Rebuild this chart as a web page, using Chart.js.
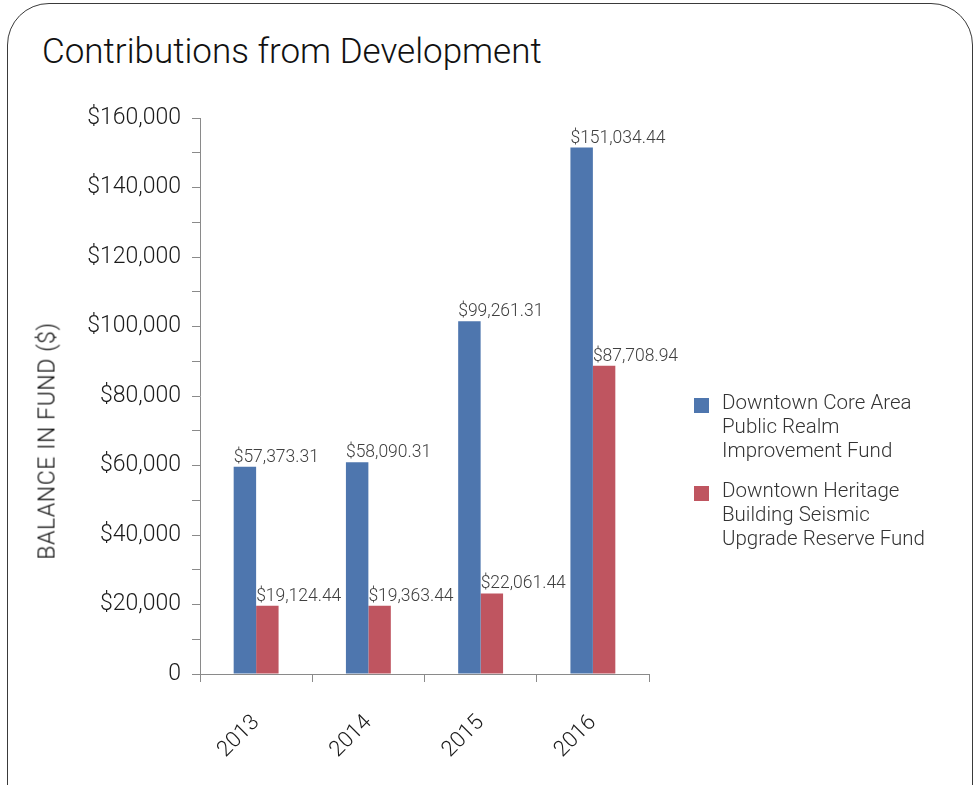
<!DOCTYPE html>
<html>
<head>
<meta charset="utf-8">
<script src="https://cdn.jsdelivr.net/npm/chart.js@4"></script>
<style>
html, body { margin:0; padding:0; background:#fff; width:975px; height:785px; overflow:hidden; font-family:Roboto, "Liberation Sans", sans-serif; }
#frame { position:absolute; left:7px; top:3px; width:966px; height:830px; border:1px solid #3a3a3a; border-radius:42px; box-sizing:border-box; }
#title { position:absolute; left:42px; top:34px; font-size:35px; font-weight:300; line-height:36px; color:#111; white-space:nowrap; }
#chart { position:absolute; left:0; top:0; }
#ytitle { position:absolute; left:47px; top:441px; transform:translate(-50%,-50%) rotate(-90deg); font-size:23px; letter-spacing:0.6px; font-weight:300; color:#111; white-space:nowrap; }
#legend { position:absolute; left:694px; top:390px; font-size:20.5px; font-weight:300; color:#333; }
.item { display:flex; align-items:flex-start; margin-bottom:16px; }
.sw { width:15px; height:15px; margin:8px 13px 0 0; flex:none; }
.txt { line-height:24px; }
</style>
</head>
<body>
<div id="frame"></div>
<div id="title">Contributions from Development</div>
<canvas id="chart" width="975" height="785"></canvas>
<div id="ytitle">BALANCE IN FUND ($)</div>
<div id="legend"></div>
<script>
const years = ['2013', '2014', '2015', '2016'];
const coreFund = [59650, 60900, 101500, 151500];
const heritageFund = [19650, 19650, 23200, 88700];
const coreText = ['$57,373.31', '$58,090.31', '$99,261.31', '$151,034.44'];
const heritageText = ['$19,124.44', '$19,363.44', '$22,061.44', '$87,708.94'];
const seriesNames = [
  ['Downtown Core Area', 'Public Realm', 'Improvement Fund'],
  ['Downtown Heritage', 'Building Seismic', 'Upgrade Reserve Fund']
];
const colors = ['#4E76AE', '#BF5560'];
const yMax = 160000;
const yStep = 10000;

// value text above each bar, left aligned on the bar
const valueLabels = {
  id: 'valueLabels',
  afterDatasetsDraw(chart){
    const ctx = chart.ctx;
    ctx.save();
    ctx.font = '300 17.5px Roboto';
    ctx.fillStyle = '#404040';
    ctx.textAlign = 'left';
    ctx.textBaseline = 'alphabetic';
    chart.data.datasets.forEach((ds, i) => {
      chart.getDatasetMeta(i).data.forEach((bar, j) => {
        ctx.fillText(ds.valueText[j], bar.x - bar.width / 2, bar.y - 5);
      });
    });
    ctx.restore();
  }
};

const ctx = document.getElementById('chart').getContext('2d');
new Chart(ctx, {
  type: 'bar',
  data: {
    labels: years,
    datasets: [
      { label: seriesNames[0].join(' '), data: coreFund, valueText: coreText, backgroundColor: colors[0] },
      { label: seriesNames[1].join(' '), data: heritageFund, valueText: heritageText, backgroundColor: colors[1] }
    ]
  },
  options: {
    responsive: false,
    animation: false,
    layout: { padding: { top: 118, right: 326, left: 0, bottom: 0 } },
    datasets: { bar: { categoryPercentage: 0.4, barPercentage: 1.0 } },
    plugins: { legend: { display: false }, tooltip: { enabled: false } },
    scales: {
      x: {
        afterFit: s => { s.height = 111; },
        border: { color: '#8a8a8a', width: 1 },
        grid: { drawOnChartArea: false, tickLength: 8, color: '#8a8a8a', offset: true },
        ticks: { color: '#1a1a1a', font: { family: 'Roboto', weight: 300, size: 22 }, minRotation: 45, maxRotation: 45, padding: 28 }
      },
      y: {
        min: 0,
        max: yMax,
        afterFit: s => { s.width = 200; },
        border: { color: '#8a8a8a', width: 1 },
        grid: { drawOnChartArea: false, tickLength: 8, color: '#8a8a8a' },
        ticks: {
          stepSize: yStep,
          autoSkip: false,
          color: '#1a1a1a',
          padding: 11,
          font: { family: 'Roboto', weight: 300, size: 23 },
          callback: v => {
            if (v % 20000 !== 0) return '';
            if (v === 0) return '0';
            return '$' + v.toLocaleString('en-US');
          }
        }
      }
    }
  },
  plugins: [valueLabels]
});

// legend on the right
const legend = document.getElementById('legend');
seriesNames.forEach((lines, i) => {
  const item = document.createElement('div');
  item.className = 'item';
  item.innerHTML = '<div class="sw" style="background:' + colors[i] + '"></div><div class="txt">' + lines.join('<br>') + '</div>';
  legend.appendChild(item);
});
</script>
</body>
</html>
